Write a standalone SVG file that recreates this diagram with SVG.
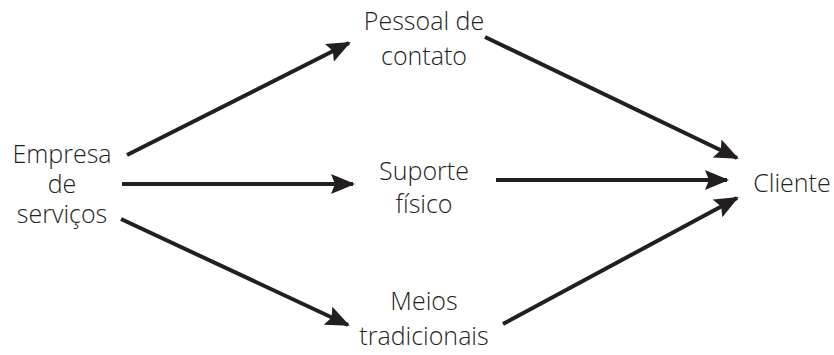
<svg xmlns="http://www.w3.org/2000/svg" width="834" height="355" viewBox="0 0 834 355">
<style>
text{font-family:"Open Sans","Noto Sans","Liberation Sans",sans-serif;font-weight:300;font-size:25px;fill:#231f20;text-anchor:middle}
.c line{stroke:#231f20;stroke-width:4;marker-end:url(#ah)}
</style>
<defs>
<marker id="ah" markerUnits="userSpaceOnUse" viewBox="0 0 24 20" refX="22" refY="10" markerWidth="24" markerHeight="20" orient="auto">
<path d="M0,0 L24,10 L0,20 L4,10 Z" fill="#231f20"/>
</marker>
</defs>
<rect width="834" height="355" fill="#fff"/>
<g id="n-empresa"><text x="62" y="163">Empresa</text><text x="62" y="193">de</text><text x="62" y="223">serviços</text></g>
<g id="n-pessoal"><text x="424" y="30">Pessoal de</text><text x="424" y="65">contato</text></g>
<g id="n-suporte"><text x="424" y="180">Suporte</text><text x="424" y="213">físico</text></g>
<g id="n-meios"><text x="424" y="310">Meios</text><text x="424" y="345">tradicionais</text></g>
<g id="n-cliente"><text x="792" y="192">Cliente</text></g>
<g class="c" id="connectors">
<line x1="127" y1="155" x2="349" y2="43"/>
<line x1="122" y1="184" x2="353" y2="184"/>
<line x1="121" y1="219" x2="348" y2="325"/>
<line x1="485" y1="37" x2="737" y2="158"/>
<line x1="496" y1="180" x2="727" y2="180"/>
<line x1="503" y1="324" x2="737" y2="198"/>
</g>
</svg>
